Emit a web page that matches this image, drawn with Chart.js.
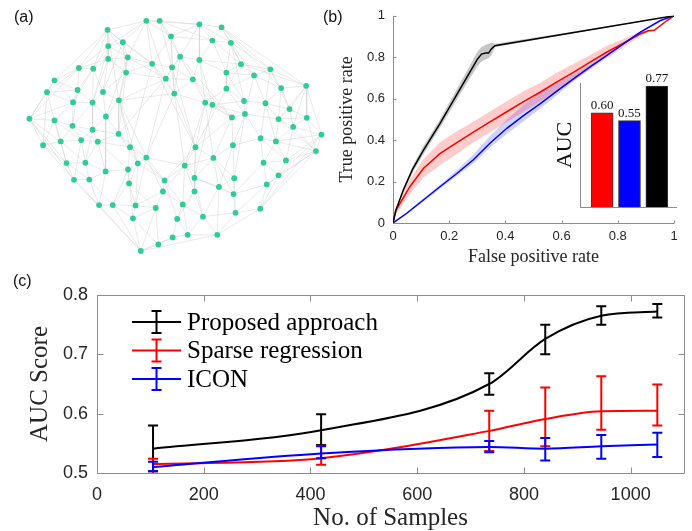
<!DOCTYPE html>
<html>
<head>
<meta charset="utf-8">
<script src="https://cdn.jsdelivr.net/npm/chart.js@4.4.1/dist/chart.umd.min.js"></script>
<style>
  html, body { margin: 0; padding: 0; background: #fff; overflow: hidden; }
  #fig { position: relative; width: 692px; height: 531px; }
  #fig canvas { position: absolute; }
  .panel { position: absolute; font: 16px "Liberation Sans", Arial, sans-serif; line-height: 16px; color: #111; }
</style>
</head>
<body>
<div id="fig">
  <canvas id="netChart" width="346" height="265" style="left:0;top:0"></canvas>
  <canvas id="rocChart" width="362" height="266" style="left:330px;top:0"></canvas>
  <canvas id="aucChart" width="140" height="150" style="left:545px;top:70px"></canvas>
  <canvas id="sampleChart" width="692" height="266" style="left:0;top:265px"></canvas>
  <div class="panel" style="left:14px;top:9px">(a)</div>
  <div class="panel" style="left:323px;top:9px">(b)</div>
  <div class="panel" style="left:13px;top:273px">(c)</div>
</div>
<script>
// ---------- (a) network: node layout coordinates and links ----------
const nodeX = [437,478,600,668,318,513,640,697,365,320,380,320,541,600,455,516,728,818,230,274,
  375,683,768,497,580,155,928,851,683,226,304,132,523,212,272,353,618,640,737,803,
  877,740,700,843,930,313,78,155,210,272,888,352,975,120,174,237,288,788,835,703,
  588,387,958,437,643,192,250,411,555,797,866,312,381,843,215,262,493,585,707,384,
  807,660,488,585,705,292,334,404,549,466,787,711,396,611,532,518,564,655,474,420];
const nodeY = [52,52,63,72,80,100,113,120,118,130,165,170,163,173,185,196,186,202,198,200,
  212,212,221,231,233,236,253,260,262,266,272,273,277,304,305,298,305,312,300,307,
  325,340,351,356,352,348,355,360,377,389,380,402,404,437,425,421,426,415,425,437,
  443,443,455,475,476,492,491,493,500,491,484,518,512,530,544,543,546,538,539,555,
  558,566,580,580,588,622,622,623,620,631,633,646,663,658,665,722,714,714,744,764];
const links = [
  [1,4,5,8,9,10,14,2,23],[2,5,6,12,15],[3,5,6,7,12,13],[6,7,16,17,26,27],[8,9,10,11,14,18,19,25,35],
  [6,12,14,15,32],[7,13,16,21],[16,17,21,22,38],[9,10,14,20,30],[10,11,18,19,34],
  [11,14,20,35,45,23],[18,19,20,30,34],[13,15,23,24,32,42],[16,21,24,36,37],[15,20,23,32,61,60],
  [23,24,32,60],[17,21,22,26,28],[22,26,27,39,40],[19,25,29,31,46],[29,30,33,34],
  [23,30,35,51],[22,28,38],[27,28,39,41],[24,32,35,63,51],[32,36,37,42],
  [29,31,33,46],[27,40,44,50,52,43],[39,40,43],[36,38,41,60],[31,33,34,48],
  [34,35,45],[33,46,47,53],[35,36,60,68,63],[34,46,47,48],[45,48,49],
  [45,51,61,63,67],[37,42,60,64,68],[38,41,42,77],[39,41],[40,43,57,58],
  [43,44,50],[42,43,57,59,78],[59,60,64],[44,50,58,62],[50,52,62],
  [49,51,71],[47,53,54,65,74],[48,53,54,65,55],[49,54,55,56],[51,55,56,66],
  [52,58,62,70],[56,61,67,63],[58,62,70,90,73],[54,65,74],[55,65,66],
  [56,66,74],[61,66,71,72],[58,59,69,70],[62,69,70],[64,78,81],
  [64,68,77,83,76],[63,67,72,76],[70,73,80,90],[67,68,76,82,87],[68,77,78,84,81],
  [66,74,75],[71,75],[72,76,79,87],[76,77,83,88,82],[70,73,80,84],
  [73],[72,75,85],[79,86,92],[80,90],[75,85,99],
  [85,86],[82,88,94],[81,83,93,84],[81,84,91],[86,87,89],
  [84,90,91],[84,93,97],[87,88,89],[88,93,94],[91],
  [86,99],[87,92,99],[89,92],[93,94,96],[92,98,99],
  [91,97],[93,97],[98,99],[96,97],[95,96],
  [96,98,99],[97],[99],[99],[]
];

// ---------- (b) ROC curves with shaded spread ----------
const blackFpr = [0, 0.01, 0.037, 0.07, 0.108, 0.167, 0.227, 0.27, 0.30, 0.315, 0.33, 0.34, 0.35, 0.363, 1];
const blackTpr = [0, 0.06, 0.16, 0.26, 0.35, 0.48, 0.62, 0.72, 0.79, 0.815, 0.82, 0.82, 0.84, 0.856, 1];
const blackHi  = [0, 0.065, 0.17, 0.275, 0.37, 0.50, 0.645, 0.75, 0.825, 0.85, 0.86, 0.865, 0.87, 0.865, 1];
const blackLo  = [0, 0.055, 0.15, 0.245, 0.33, 0.46, 0.595, 0.69, 0.755, 0.78, 0.79, 0.795, 0.81, 0.85, 1];

const redFpr = [0, 0.01, 0.025, 0.06, 0.108, 0.167, 0.227, 0.286, 0.345, 0.405, 0.463, 0.523, 0.582, 0.642, 0.70, 0.76, 0.82, 0.879, 0.909, 0.93, 0.974, 1];
const redTpr = [0, 0.06, 0.095, 0.175, 0.263, 0.335, 0.388, 0.439, 0.488, 0.537, 0.585, 0.631, 0.68, 0.727, 0.775, 0.824, 0.868, 0.912, 0.928, 0.93, 0.976, 1];
const redHi  = [0, 0.075, 0.12, 0.21, 0.308, 0.39, 0.443, 0.489, 0.538, 0.587, 0.635, 0.676, 0.725, 0.767, 0.81, 0.854, 0.888, 0.922, 0.933, 0.935, 0.978, 1];
const redLo  = [0, 0.045, 0.07, 0.14, 0.218, 0.28, 0.333, 0.389, 0.438, 0.487, 0.535, 0.586, 0.635, 0.687, 0.74, 0.794, 0.848, 0.902, 0.923, 0.925, 0.974, 1];

const blueFpr = [0, 0.049, 0.108, 0.167, 0.227, 0.286, 0.345, 0.405, 0.463, 0.523, 0.582, 0.642, 0.70, 0.76, 0.82, 0.879, 0.95, 1];
const blueTpr = [0, 0.047, 0.111, 0.175, 0.239, 0.305, 0.385, 0.457, 0.517, 0.575, 0.635, 0.696, 0.752, 0.808, 0.865, 0.92, 0.976, 1];
const blueHi  = [0, 0.052, 0.119, 0.185, 0.254, 0.33, 0.42, 0.50, 0.567, 0.631, 0.68, 0.716, 0.762, 0.816, 0.871, 0.924, 0.978, 1];
const blueLo  = [0, 0.042, 0.103, 0.165, 0.227, 0.287, 0.363, 0.429, 0.489, 0.551, 0.615, 0.684, 0.744, 0.802, 0.86, 0.916, 0.974, 1];

const rocTicks = [0, 0.2, 0.4, 0.6, 0.8, 1];

// inset bars
const aucValues = [0.60, 0.55, 0.77];
const aucLabels = ['0.60', '0.55', '0.77'];

// ---------- (c) AUC vs number of samples ----------
const samples = [105, 420, 735, 840, 945, 1050];
const proposedMean = [0.541, 0.572, 0.650, 0.726, 0.765, 0.772];
const proposedLow  = [0.503, 0.547, 0.632, 0.700, 0.750, 0.762];
const proposedHigh = [0.580, 0.599, 0.668, 0.750, 0.781, 0.785];
const sparseMean = [0.515, 0.525, 0.571, 0.591, 0.604, 0.605];
const sparseLow  = [0.497, 0.514, 0.537, 0.545, 0.573, 0.580];
const sparseHigh = [0.524, 0.546, 0.605, 0.644, 0.663, 0.649];
const iconMean = [0.510, 0.533, 0.544, 0.541, 0.545, 0.548];
const iconLow  = [0.503, 0.525, 0.535, 0.521, 0.524, 0.527];
const iconHigh = [0.519, 0.545, 0.554, 0.559, 0.564, 0.568];
const sampleTicks = [0, 200, 400, 600, 800, 1000];
const scoreTicks = [0.5, 0.6, 0.7, 0.8];

Chart.defaults.font.family = '"Liberation Sans", Arial, sans-serif';
Chart.defaults.color = '#262626';
Chart.defaults.animation = false;

const SERIF = '"Liberation Serif", "Times New Roman", serif';
const pts = (xs, ys) => xs.map((x, i) => ({x: x, y: ys[i]}));

// ----- (a) -----
const edgePts = [];
links.forEach((list, i) => {
  list.forEach(j => {
    edgePts.push({x: nodeX[i], y: nodeY[i]}, {x: nodeX[j], y: nodeY[j]}, {x: NaN, y: NaN});
  });
});

new Chart(document.getElementById('netChart'), {
  type: 'scatter',
  data: {
    datasets: [
      { data: pts(nodeX, nodeY), pointRadius: 2.9, pointBackgroundColor: '#30cc98', pointBorderWidth: 0, order: 1 },
      { data: edgePts, showLine: true, spanGaps: false, pointRadius: 0, borderColor: 'rgba(200,200,200,0.5)', borderWidth: 0.8, order: 2 }
    ]
  },
  options: {
    responsive: false, devicePixelRatio: 1,
    layout: { padding: 0 },
    plugins: { legend: { display: false }, tooltip: { enabled: false } },
    scales: {
      x: { type: 'linear', min: 0, max: 1038, display: false },
      y: { type: 'linear', min: 0, max: 795, reverse: true, display: false }
    }
  }
});

// ----- (b) -----
const rocAxes = {
  id: 'rocAxes',
  beforeDatasetsDraw(chart) {
    const {ctx} = chart, xs = chart.scales.x, ys = chart.scales.y;
    const x0 = Math.round(xs.getPixelForValue(0)) + 0.5, x1 = xs.getPixelForValue(1);
    const y0 = Math.round(ys.getPixelForValue(0)) + 0.5, y1 = ys.getPixelForValue(1);
    ctx.save();
    ctx.strokeStyle = '#8c8c8c';
    ctx.lineWidth = 1;
    ctx.beginPath();
    ctx.moveTo(x0, y1); ctx.lineTo(x0, y0); ctx.lineTo(x1, y0);
    rocTicks.forEach(v => {
      const px = Math.round(xs.getPixelForValue(v)) + 0.5;
      ctx.moveTo(px, y0); ctx.lineTo(px, y0 - 3);
      const py = Math.round(ys.getPixelForValue(v)) + 0.5;
      ctx.moveTo(x0, py); ctx.lineTo(x0 + 3, py);
    });
    ctx.stroke();
    ctx.restore();
  }
};

const lineDs = (xs, ys, color, order) => ({
  data: pts(xs, ys), showLine: true, borderColor: color, borderWidth: 1.5,
  pointRadius: 0, fill: false, order: order
});
const bandDs = (xs, ys, fillTarget, color) => ({
  data: pts(xs, ys), showLine: true, borderWidth: 0, borderColor: 'rgba(0,0,0,0)',
  pointRadius: 0, fill: fillTarget, backgroundColor: color, order: 10
});

new Chart(document.getElementById('rocChart'), {
  type: 'scatter',
  data: {
    datasets: [
      lineDs(blackFpr, blackTpr, '#000000', 1),
      lineDs(redFpr, redTpr, '#ff0000', 3),
      lineDs(blueFpr, blueTpr, '#0000ff', 2),
      bandDs(blackFpr, blackHi, 4, 'rgba(90,90,90,0.35)'),
      bandDs(blackFpr, blackLo, false, 'rgba(0,0,0,0)'),
      bandDs(redFpr, redHi, 6, 'rgba(255,0,0,0.2)'),
      bandDs(redFpr, redLo, false, 'rgba(0,0,0,0)'),
      bandDs(blueFpr, blueHi, 8, 'rgba(0,0,255,0.18)'),
      bandDs(blueFpr, blueLo, false, 'rgba(0,0,0,0)')
    ]
  },
  options: {
    responsive: false, devicePixelRatio: 1,
    layout: { padding: { left: 8, right: 18, top: 15, bottom: 0 } },
    plugins: { legend: { display: false }, tooltip: { enabled: false } },
    scales: {
      x: {
        type: 'linear', min: 0, max: 1,
        afterBuildTicks: s => { s.ticks = rocTicks.map(v => ({value: v})); },
        afterFit: s => { s.height = 43; },
        grid: { display: false, drawTicks: false }, border: { display: false },
        ticks: { padding: 6, font: { size: 13 }, maxRotation: 0, callback: v => String(v) },
        title: { display: true, text: 'False positive rate', font: { family: SERIF, size: 18, lineHeight: 1 }, padding: 0 }
      },
      y: {
        type: 'linear', min: 0, max: 1,
        afterBuildTicks: s => { s.ticks = rocTicks.map(v => ({value: v})); },
        afterFit: s => { s.width = 55; },
        grid: { display: false, drawTicks: false }, border: { display: false },
        ticks: { padding: 8, font: { size: 13 }, callback: v => String(v) },
        title: { display: true, text: 'True positive rate', font: { family: SERIF, size: 18, lineHeight: 1 }, padding: 0 }
      }
    }
  },
  plugins: [rocAxes]
});

// ----- (b) inset -----
const barLabels = {
  id: 'barLabels',
  afterDatasetsDraw(chart) {
    const {ctx} = chart;
    ctx.save();
    ctx.font = '13px ' + SERIF;
    ctx.fillStyle = '#111';
    ctx.textAlign = 'center';
    ctx.textBaseline = 'bottom';
    chart.getDatasetMeta(0).data.forEach((bar, i) => {
      ctx.fillText(aucLabels[i], bar.x, bar.y - 1);
    });
    ctx.restore();
  }
};

new Chart(document.getElementById('aucChart'), {
  type: 'bar',
  data: {
    datasets: [{
      data: aucValues.map((v, i) => ({x: i + 1, y: v})),
      backgroundColor: ['#ff0000', '#0000ff', '#000000'],
      borderColor: '#3a3a3a', borderWidth: 1, barThickness: 22
    }]
  },
  options: {
    responsive: false, devicePixelRatio: 1,
    layout: { padding: { left: 9, right: 9, top: 13, bottom: 13 } },
    plugins: { legend: { display: false }, tooltip: { enabled: false } },
    scales: {
      x: {
        type: 'linear', min: 0.21, max: 3.7, offset: false,
        afterFit: s => { s.height = 0; },
        grid: { display: false, drawTicks: false },
        border: { display: true, color: '#8c8c8c' },
        ticks: { display: false }
      },
      y: {
        min: 0, max: 0.79,
        afterFit: s => { s.width = 26.5; },
        grid: { display: false, drawTicks: false },
        border: { display: true, color: '#8c8c8c' },
        ticks: { display: false },
        title: { display: true, text: 'AUC', font: { family: SERIF, size: 22, lineHeight: 1 }, padding: 0, color: '#111' }
      }
    }
  },
  plugins: [barLabels]
});

// ----- (c) -----
const frameAndErrors = {
  id: 'frameAndErrors',
  beforeDatasetsDraw(chart) {
    const {ctx, chartArea: a} = chart, xs = chart.scales.x, ys = chart.scales.y;
    const l = Math.round(a.left) + 0.5, r = Math.round(a.right) + 0.5;
    const t = Math.round(a.top) + 0.5, b = Math.round(a.bottom) + 0.5;
    ctx.save();
    ctx.strokeStyle = '#8c8c8c';
    ctx.lineWidth = 1;
    ctx.beginPath();
    ctx.rect(l, t, r - l, b - t);
    sampleTicks.forEach(v => {
      const px = Math.round(xs.getPixelForValue(v)) + 0.5;
      ctx.moveTo(px, b); ctx.lineTo(px, b - 6);
      ctx.moveTo(px, t); ctx.lineTo(px, t + 6);
    });
    scoreTicks.forEach(v => {
      const py = Math.round(ys.getPixelForValue(v)) + 0.5;
      ctx.moveTo(l, py); ctx.lineTo(l + 6, py);
      ctx.moveTo(r, py); ctx.lineTo(r - 6, py);
    });
    ctx.stroke();
    ctx.restore();
  },
  afterDatasetDraw(chart, args) {
    const ds = chart.data.datasets[args.index];
    if (!ds.errLow) return;
    const {ctx, chartArea: a} = chart, xs = chart.scales.x, ys = chart.scales.y;
    ctx.save();
    ctx.beginPath();
    ctx.rect(a.left, a.top, a.right - a.left, a.bottom - a.top);
    ctx.clip();
    ctx.strokeStyle = ds.borderColor;
    ctx.lineWidth = 2;
    ctx.beginPath();
    ds.data.forEach((p, i) => {
      const px = xs.getPixelForValue(p.x);
      const lo = ys.getPixelForValue(ds.errLow[i]);
      const hi = ys.getPixelForValue(ds.errHigh[i]);
      ctx.moveTo(px, lo); ctx.lineTo(px, hi);
      ctx.moveTo(px - 5, lo); ctx.lineTo(px + 5, lo);
      ctx.moveTo(px - 5, hi); ctx.lineTo(px + 5, hi);
    });
    ctx.stroke();
    ctx.restore();
  },
  afterDraw(chart) {
    // legend with error-bar glyphs, top-left inside the axes
    const {ctx} = chart;
    const rows = [57, 85.5, 114];
    ctx.save();
    ctx.font = '25px ' + SERIF;
    ctx.textBaseline = 'middle';
    ctx.textAlign = 'left';
    chart.data.datasets.forEach((ds, i) => {
      const y = rows[i];
      ctx.strokeStyle = ds.borderColor;
      ctx.lineWidth = 2;
      ctx.beginPath();
      ctx.moveTo(132, y); ctx.lineTo(181, y);
      ctx.moveTo(156.5, y - 11); ctx.lineTo(156.5, y + 11);
      ctx.moveTo(151.5, y - 11); ctx.lineTo(161.5, y - 11);
      ctx.moveTo(151.5, y + 11); ctx.lineTo(161.5, y + 11);
      ctx.stroke();
      ctx.fillStyle = '#000';
      ctx.fillText(ds.label, 187, y + 1);
    });
    ctx.restore();
  }
};

const seriesDs = (label, ys, lo, hi, color, order) => ({
  label: label, data: pts(samples, ys), errLow: lo, errHigh: hi,
  borderColor: color, borderWidth: 2, pointRadius: 0, fill: false,
  cubicInterpolationMode: 'monotone', order: order
});

new Chart(document.getElementById('sampleChart'), {
  type: 'line',
  data: {
    datasets: [
      seriesDs('Proposed approach', proposedMean, proposedLow, proposedHigh, '#000000', 3),
      seriesDs('Sparse regression', sparseMean, sparseLow, sparseHigh, '#ff0000', 2),
      seriesDs('ICON', iconMean, iconLow, iconHigh, '#0000ff', 1)
    ]
  },
  options: {
    responsive: false, devicePixelRatio: 1,
    layout: { padding: { left: 28, right: 8, top: 30, bottom: 0 } },
    plugins: { legend: { display: false }, tooltip: { enabled: false } },
    scales: {
      x: {
        type: 'linear', min: 0, max: 1100,
        afterBuildTicks: s => { s.ticks = sampleTicks.map(v => ({value: v})); },
        afterFit: s => { s.height = 58; },
        grid: { display: false, drawTicks: false }, border: { display: false },
        ticks: { padding: 11, font: { size: 18 }, maxRotation: 0, callback: v => String(v) },
        title: { display: true, text: 'No. of Samples', font: { family: SERIF, size: 25, lineHeight: 1 }, padding: 0 }
      },
      y: {
        type: 'linear', min: 0.5, max: 0.8,
        afterBuildTicks: s => { s.ticks = scoreTicks.map(v => ({value: v})); },
        afterFit: s => { s.width = 69; },
        grid: { display: false, drawTicks: false }, border: { display: false },
        ticks: { padding: 9, font: { size: 18 }, callback: v => v.toFixed(1) },
        title: { display: true, text: 'AUC Score', font: { family: SERIF, size: 25, lineHeight: 1 }, padding: 0 }
      }
    }
  },
  plugins: [frameAndErrors]
});
</script>
</body>
</html>
